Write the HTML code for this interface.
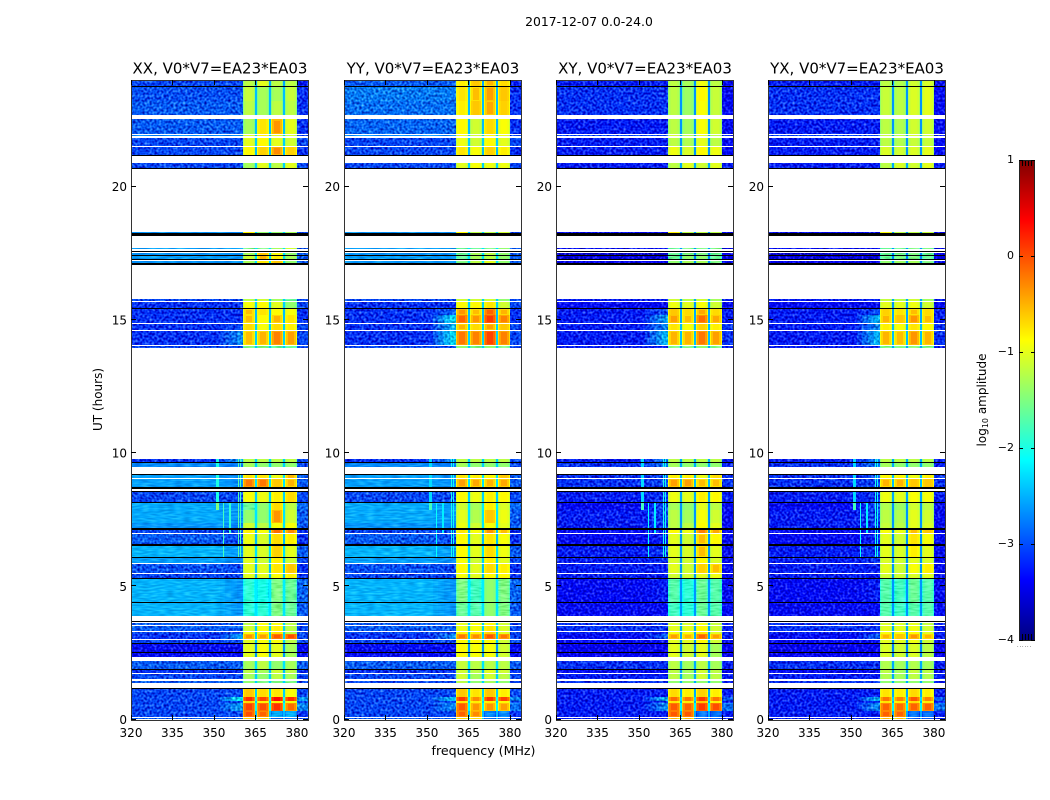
<!DOCTYPE html>
<html lang="en">
<head>
<meta charset="utf-8">
<title>2017-12-07 0.0-24.0</title>
<style>
html,body{margin:0;padding:0;background:#fff;width:1050px;height:800px;overflow:hidden}
svg{display:block}
text{font-family:"DejaVu Sans","Liberation Sans",sans-serif;fill:#000}
</style>
</head>
<body>
<svg id="chart" xmlns="http://www.w3.org/2000/svg" width="1050" height="800" viewBox="0 0 1050 800">
<defs>
<filter id="speckle" x="0" y="0" width="100%" height="100%" color-interpolation-filters="sRGB">
<feTurbulence type="fractalNoise" baseFrequency="0.42" numOctaves="1" seed="7" result="n"/>
<feColorMatrix in="n" type="matrix" values="1 0 0 0 0 1 0 0 0 0 1 0 0 0 0 0 0 0 0 1" result="g"/>
<feComposite in="SourceGraphic" in2="g" operator="arithmetic" k1="0" k2="1" k3="1.1" k4="-0.58" result="m"/>
<feComposite in="m" in2="SourceAlpha" operator="in"/>
</filter>
<filter id="speckle-soft" x="0" y="0" width="100%" height="100%" color-interpolation-filters="sRGB">
<feTurbulence type="fractalNoise" baseFrequency="0.12 0.6" numOctaves="1" seed="11" result="n"/>
<feColorMatrix in="n" type="matrix" values="1 0 0 0 0 1 0 0 0 0 1 0 0 0 0 0 0 0 0 1" result="g"/>
<feComposite in="SourceGraphic" in2="g" operator="arithmetic" k1="0" k2="1" k3="0.45" k4="-0.22" result="m"/>
<feComposite in="m" in2="SourceAlpha" operator="in"/>
</filter>
</defs>
<text x="589" y="26" font-size="12.4" text-anchor="middle">2017-12-07 0.0-24.0</text>
<text x="483.5" y="755" font-size="12.6" text-anchor="middle">frequency (MHz)</text>
<text transform="translate(102 399.5) rotate(-90)" font-size="12" text-anchor="middle">UT (hours)</text>
<text transform="translate(986 400) rotate(-90)" font-size="12" text-anchor="middle">log<tspan font-size="8" dy="2">10</tspan><tspan dy="-2"> amplitude</tspan></text>
<text x="1017" y="647" font-size="5" fill="#888" letter-spacing="0.9">......</text>
</svg>
<script>
// Axis tick labels
const freqTicks = [320, 335, 350, 365, 380];
const hourTicks = [0, 5, 10, 15, 20];
const colorbarTicks = [1, 0, -1, -2, -3, -4];
const colorbarTickLabels = ['1', '0', '\u22121', '\u22122', '\u22123', '\u22124'];

// Baselines (polarisation) shown
const panelTitles = ['XX, V0*V7=EA23*EA03', 'YY, V0*V7=EA23*EA03', 'XY, V0*V7=EA23*EA03', 'YX, V0*V7=EA23*EA03'];
const panelKeys = ['xx', 'yy', 'xy', 'yx'];

// Frequency bands in MHz: background, wing, four spectral windows, edge channels
const bgBand = [320, 352];
const wingBand = [352, 360.5];
const spwStart = [360.5, 365.5, 370.6, 375.7];
const spwEnd = [364.8, 369.9, 374.9, 380.0];
const edgeBand = [380, 384];

// UT span (hours) of each valid data block
const rowStart = [0.03,0.10,0.32,0.62,0.68,0.84,1.37,1.53,1.74,1.91,2.33,2.53,2.88,3.01,3.21,3.32,3.54,3.89,4.42,5.31,5.48,5.87,6.10,6.57,6.99,7.17,7.39,7.85,8.17,8.71,9.06,9.47,9.66,13.94,14.04,14.60,14.87,15.17,15.46,15.69,17.13,17.27,17.43,17.64,18.24,20.69,21.19,21.54,21.88,21.97,22.67,23.20,23.78];
const rowEnd = [0.07,0.32,0.62,0.68,0.84,1.13,1.44,1.71,1.87,2.20,2.49,2.84,2.97,3.21,3.28,3.52,3.62,4.38,5.27,5.46,5.83,6.07,6.53,6.97,7.13,7.36,7.85,8.13,8.53,9.02,9.16,9.62,9.77,14.00,14.57,14.83,15.17,15.42,15.65,15.77,17.21,17.39,17.49,17.68,18.29,20.87,21.50,21.84,21.93,22.52,23.20,23.74,24.00];

// Fully flagged (black) integrations, hours
const flagStart = [1.13,1.87,2.49,2.84,3.68,4.38,5.27,6.07,6.53,7.13,8.13,8.53,8.65,9.16,9.62,15.42,17.06,17.23,17.39,17.53,18.14,20.66,21.14,23.74];
const flagEnd = [1.17,1.91,2.53,2.88,3.70,4.42,5.31,6.10,6.57,7.17,8.17,8.57,8.71,9.21,9.66,15.46,17.13,17.27,17.43,17.60,18.24,20.69,21.19,23.78];

// Narrow RFI lines (MHz, hours, log10 amp)
const rfiFreqStart = [350.7,350.7,353.2,355.6,358.6,359.4];
const rfiFreqEnd = [351.8,351.8,353.6,356.0,359.0,359.9];
const rfiTimeStart = [7.85,8.17,6.0,7.0,6.0,6.0];
const rfiTimeEnd = [8.13,9.8,8.13,8.13,9.8,9.8];
const rfiLevel = [-1.5,-2.0,-1.8,-1.9,-1.7,-1.8];
const rfiPanelOffset = [0,-0.3,-0.3,-0.3];

// log10 amplitude per data block: [bg, wing, spw1, spw2, spw3, spw4, edge]
const xxAmp = [
[-2.9,-2.9,-.6,-.6,-2.8,-2.8,-3],[-3,-3,0,-.1,-2.5,-2.5,-3.1],[-3,-2.6,.05,0,.15,-.15,-2.7],[-3,-3,-.7,-.8,-.8,-.9,-3],[-3,-2.2,.15,.05,.35,.15,-2.6],[-3,-3,-.6,-.7,-.75,-.9,-3],
[-2.9,-2.9,-1.4,-1.5,-1.5,-1.5,-3],[-3,-3,-1.3,-1.4,-1.2,-1.3,-3],[-3.1,-3.1,-1.2,-1.3,-1.1,-1.2,-3.1],[-2.9,-2.9,-1.3,-1.2,-1.4,-1.3,-2.9],[-3.3,-3.3,-1,-.9,-1,-1.3,-3.3],[-3.3,-3.3,-1,-.9,-1,-1.3,-3.3],
[-3,-3,-1,-.9,-.9,-1.2,-3],[-3.1,-2.6,-.35,-.4,-.05,0,-3],[-3,-3,-.9,-.8,-.7,-1.2,-3],[-2.9,-2.9,-1.1,-.9,-.8,-1.2,-3],[-2.9,-3,-1.2,-.9,-.9,-1.2,-3],[-2.5,-2.65,-1.9,-1.9,-1.5,-1.6,-2.9],
[-2.5,-2.65,-1.9,-2,-1.5,-1.6,-2.85],[-3,-3,-1,-1,-.9,-.8,-3.1],[-2.95,-3,-1,-1,-.75,-.6,-3.1],[-2.6,-2.7,-1,-1.1,-.8,-1.1,-3],[-2.5,-2.65,-1,-1.05,-.65,-1,-2.9],[-2.9,-3,-.95,-1.05,-.7,-.8,-3.1],
[-3,-3,-.8,-.9,-.15,-.3,-3.1],[-2.65,-2.75,-1.1,-1.2,-.9,-.9,-2.9],[-2.55,-2.65,-1.4,-1.4,-.35,-1.1,-2.9],[-2.55,-2.65,-1.6,-1.4,-.7,-1.2,-2.85],[-3,-3,-.9,-.95,-.8,-.7,-3],[-2.6,-2.7,-.2,-.2,-.6,-.5,-2.9],
[-2.6,-2.7,-.75,-.75,-.95,-.5,-2.9],[-2.7,-2.8,-1.3,-1.4,-1.4,-1.4,-3],[-3.1,-2.6,-1.2,-1.2,-1.2,-1.2,-3],[-3,-3,-1.5,-1.5,-1.6,-1.6,-3],[-3.1,-2.7,-.55,-.5,-.25,-.4,-3],[-3.1,-3,-.7,-.9,-.7,-.8,-3],
[-3.1,-3.1,-.55,-.85,-.5,-.75,-3.1],[-3.1,-3.1,-.55,-.75,-.85,-.9,-3.1],[-3.1,-3.1,-.9,-.85,-1,-1.4,-3],[-3,-3,-1.2,-1.1,-1.3,-1.6,-3],[-2.65,-2.65,-1.3,-.75,-.6,-1.4,-2.9],[-2.6,-2.65,-1.1,-.5,-.8,-1.3,-2.9],
[-2.65,-2.65,-1.3,-.6,-.9,-1.4,-2.9],[-2.6,-2.6,-1.5,-1.5,-1.3,-1.1,-2.9],[-2.65,-2.7,-.8,-1.4,-1.4,-1.3,-3],[-3,-3,-1.3,-1,-1.2,-1,-3],[-3,-3,-.85,-.65,-.3,-.65,-3.1],[-3,-3,-1,-.85,-1,-1.1,-3],
[-2.7,-2.65,-1,-.8,-1,-1.1,-3],[-2.9,-2.9,-1.3,-.75,-.35,-1,-3.1],[-2.9,-2.9,-1.2,-1.3,-1.2,-1.2,-3.1],[-2.95,-2.95,-1.15,-1.3,-1.3,-1.15,-3.1],[-3,-3,-1.2,-1,-1.2,-1.2,-3.2]
];
const yyAmp = [
[-2.9,-2.9,-.7,-.7,-2.8,-2.8,-3],[-3,-3,-.1,-.3,-2.7,-2.7,-3.1],[-3,-2.7,-.05,-.35,-.35,-.4,-2.8],[-3,-3,-.75,-.8,-.8,-.85,-3],[-3,-2.4,.1,-.3,.1,.05,-2.7],[-3,-3,-.6,-.75,-.6,-.8,-3],
[-3,-3,-1.2,-1.4,-1.3,-1.4,-3],[-3,-3,-1.1,-1.3,-1.1,-1.2,-3],[-3.1,-3.1,-1.1,-1.2,-1,-1.1,-3.1],[-2.9,-2.9,-1.15,-1.2,-1.2,-1.2,-2.9],[-3.3,-3.3,-.85,-.9,-.9,-1.1,-3.3],[-3.3,-3.3,-.85,-.9,-.9,-1.1,-3.3],
[-3,-3,-.85,-.85,-.85,-1.1,-3],[-3.1,-2.7,-.2,-.3,-.05,-.2,-3],[-3,-3,-.8,-.8,-.65,-1,-3],[-2.9,-2.9,-.95,-.9,-.75,-1.05,-3],[-2.9,-3,-1,-.9,-.85,-1.1,-3],[-2.5,-2.65,-1.6,-1.7,-1.4,-1.5,-2.9],
[-2.5,-2.65,-1.5,-1.8,-1.4,-1.5,-2.85],[-3,-3,-.9,-1,-.85,-.85,-3.1],[-2.95,-3,-.85,-1,-.7,-.8,-3.1],[-2.6,-2.7,-.9,-1.1,-.8,-1,-3],[-2.5,-2.65,-.85,-1,-.7,-.95,-2.9],[-2.9,-3,-.85,-1,-.75,-.9,-3.1],
[-3,-3,-.75,-.9,-.35,-.55,-3.1],[-2.65,-2.75,-.95,-1.1,-.9,-1,-2.9],[-2.55,-2.65,-1,-1.25,-.6,-.95,-2.9],[-2.55,-2.65,-1.1,-1.3,-.8,-1.05,-2.85],[-3,-3,-.85,-.95,-.8,-.85,-3],[-2.6,-2.7,-.4,-.45,-.5,-.45,-2.9],
[-2.6,-2.7,-.75,-.8,-.85,-.6,-2.9],[-2.7,-2.8,-1.3,-1.4,-1.4,-1.4,-3],[-3.1,-2.7,-1.2,-1.2,-1.2,-1.2,-3],[-3,-3,-1.4,-1.5,-1.4,-1.5,-3],[-3.1,-2.3,-.2,-.25,.05,-.25,-3],[-3.1,-2.5,-.5,-.7,-.4,-.6,-3],
[-3.1,-2.3,-.1,-.35,.1,-.25,-3.1],[-3.1,-2.9,-.35,-.55,-.1,-.5,-3.1],[-3.1,-3.1,-.85,-.85,-.75,-1.1,-3],[-3,-3,-1.1,-1.1,-1.1,-1.4,-3],[-2.65,-2.65,-1.5,-1.2,-1,-1.4,-2.9],[-2.6,-2.65,-1.6,-1.3,-1.2,-1.4,-2.9],
[-2.65,-2.65,-1.6,-1.3,-1.2,-1.4,-2.9],[-2.6,-2.6,-1.6,-1.6,-1.5,-1.4,-2.9],[-2.65,-2.7,-.85,-1.2,-1.2,-1.1,-3],[-3,-3,-1,-.9,-.95,-.95,-3],[-3,-3,-.75,-.9,-.65,-.8,-3.1],[-3,-3,-.95,-1.1,-.85,-1,-3],
[-2.7,-2.7,-.95,-1.1,-.85,-1,-3],[-2.85,-2.85,-.85,-1.1,-.7,-.9,-3.1],[-2.8,-2.8,-.8,-.6,-.45,-.65,-3.1],[-2.75,-2.75,-.75,-.55,-.4,-.6,-3.1],[-2.9,-2.9,-.8,-.6,-.5,-.7,-3.2]
];
const xyAmp = [
[-3.2,-3.2,-.5,-.5,-2.9,-2.9,-3.2],[-3.2,-3.2,-.05,-.05,-2.8,-2.8,-3.2],[-3.2,-2.7,-.05,-.1,.1,0,-2.8],[-3.2,-3.1,-.75,-.8,-.6,-.8,-3.2],[-3.2,-2.5,-.15,-.2,.1,-.2,-2.9],[-3.2,-3.2,-.7,-.8,-.65,-.8,-3.2],
[-3.1,-3.1,-1.4,-1.4,-1.4,-1.4,-3.2],[-3.2,-3.2,-1.2,-1.3,-1.1,-1.2,-3.2],[-3.3,-3.3,-1.2,-1.3,-1.1,-1.2,-3.3],[-3.1,-3.1,-1.2,-1.3,-1.2,-1.3,-3.2],[-3.4,-3.4,-1,-1.1,-1,-1.3,-3.4],[-3.4,-3.4,-1,-1.1,-1,-1.3,-3.4],
[-3.3,-3.3,-1,-1,-.85,-1.1,-3.3],[-3.3,-2.9,-.4,-.5,-.1,-.4,-3.2],[-3.2,-3.2,-.9,-.9,-.75,-1,-3.2],[-3.1,-3.1,-1,-1,-.85,-1.1,-3.2],[-3.1,-3.1,-1.05,-1.05,-.95,-1.15,-3.2],[-3.3,-3.3,-1.8,-1.9,-1.6,-1.7,-3.3],
[-3.3,-3.2,-1.7,-1.9,-1.6,-1.7,-3.3],[-3.2,-3.2,-1.1,-1.1,-1,-.95,-3.3],[-3.2,-3.2,-1,-1.1,-.65,-.55,-3.3],[-3.2,-3.1,-1.05,-1.1,-.85,-1.05,-3.3],[-3.2,-3.1,-1,-1.05,-.55,-1,-3.3],[-3.3,-3.2,-1,-1.1,-.55,-.85,-3.3],
[-3.3,-3.2,-.85,-.95,-.25,-.45,-3.3],[-3.2,-3.1,-1.2,-1.2,-.85,-1,-3.3],[-3.2,-3,-1.2,-1.3,-.9,-1.1,-3.3],[-3.3,-3,-1.3,-1.4,-1,-1.2,-3.3],[-3.2,-3.1,-.95,-1,-.8,-.85,-3.2],[-3.1,-3,-.4,-.4,-.55,-.55,-3.1],
[-3.1,-3,-.8,-.8,-.95,-.7,-3.1],[-3.1,-2.8,-1.3,-1.4,-1.4,-1.4,-3.2],[-3.2,-2.8,-1.2,-1.2,-1.2,-1.2,-3.2],[-3.2,-3.2,-1.5,-1.5,-1.4,-1.5,-3.2],[-3.2,-2.5,-.5,-.5,-.2,-.4,-3.1],[-3.2,-2.7,-.75,-.9,-.65,-.8,-3.1],
[-3.2,-2.6,-.4,-.55,-.15,-.45,-3.2],[-3.2,-3,-.6,-.7,-.45,-.7,-3.2],[-3.3,-3.3,-.95,-1,-.9,-1.1,-3.3],[-3.2,-3.2,-1.1,-1.2,-1.1,-1.3,-3.2],[-3.4,-3.4,-1.4,-1.3,-1.3,-1.5,-3.3],[-3.5,-3.5,-1.6,-1.4,-1.4,-1.6,-3.4],
[-3.6,-3.6,-1.6,-1.5,-1.5,-1.6,-3.4],[-3.3,-3.3,-1.6,-1.5,-1.5,-1.5,-3.3],[-3.3,-3.3,-.8,-1.2,-1.2,-1.2,-3.3],[-3.2,-3.2,-1.2,-1,-1.1,-1,-3.2],[-3.2,-3.2,-.95,-1.05,-.85,-.95,-3.3],[-3.2,-3.2,-1.2,-1.25,-1,-1.2,-3.3],
[-3,-3,-1.1,-1.2,-1,-1.2,-3.2],[-3.2,-3.2,-1.2,-1.3,-.9,-1.1,-3.3],[-3.1,-3.1,-1.2,-1.35,-.9,-1.15,-3.3],[-3.1,-3.1,-1.2,-1.35,-.85,-1.15,-3.3],[-3.2,-3.2,-1.2,-1.3,-.95,-1.2,-3.3]
];
const yxAmp = [
[-3.2,-3.2,-.5,-.55,-2.9,-2.9,-3.2],[-3.2,-3.2,-.1,-.1,-2.8,-2.8,-3.2],[-3.2,-2.7,-.1,-.15,-.1,-.1,-2.8],[-3.2,-3.1,-.75,-.8,-.7,-.8,-3.2],[-3.2,-2.5,-.2,-.25,-.05,-.25,-2.9],[-3.2,-3.2,-.75,-.8,-.7,-.8,-3.2],
[-3.1,-3.1,-1.4,-1.4,-1.4,-1.4,-3.2],[-3.2,-3.2,-1.25,-1.3,-1.2,-1.25,-3.2],[-3.3,-3.3,-1.2,-1.3,-1.15,-1.2,-3.3],[-3.1,-3.1,-1.25,-1.3,-1.25,-1.3,-3.2],[-3.4,-3.4,-1.05,-1.1,-1.05,-1.2,-3.4],[-3.4,-3.4,-1.05,-1.1,-1.05,-1.2,-3.4],
[-3.3,-3.3,-1,-1,-.95,-1.1,-3.3],[-3.3,-2.9,-.5,-.6,-.35,-.5,-3.2],[-3.2,-3.2,-.9,-.9,-.85,-1,-3.2],[-3.1,-3.1,-1,-1,-.95,-1.1,-3.2],[-3.1,-3.1,-1.05,-1.05,-1,-1.15,-3.2],[-3.3,-3.3,-1.7,-1.8,-1.7,-1.7,-3.3],
[-3.3,-3.2,-1.7,-1.8,-1.6,-1.7,-3.3],[-3.2,-3.2,-1.1,-1.1,-1.05,-1,-3.3],[-3.2,-3.2,-1,-1.1,-.9,-.8,-3.3],[-3.2,-3.1,-1.05,-1.1,-1,-1.05,-3.3],[-3.2,-3.1,-1,-1.05,-.8,-1,-3.3],[-3.3,-3.2,-1,-1.1,-.75,-.9,-3.3],
[-3.3,-3.2,-.9,-.95,-.55,-.6,-3.3],[-3.2,-3.1,-1.15,-1.2,-1,-1.05,-3.3],[-3.2,-3,-1.2,-1.25,-1,-1.1,-3.3],[-3.3,-3,-1.25,-1.35,-1.1,-1.2,-3.3],[-3.2,-3.1,-.95,-1,-.9,-.9,-3.2],[-3.1,-3,-.5,-.5,-.6,-.6,-3.1],
[-3.1,-3,-.85,-.85,-.95,-.8,-3.1],[-3.1,-2.8,-1.3,-1.4,-1.4,-1.4,-3.2],[-3.2,-2.8,-1.2,-1.2,-1.2,-1.2,-3.2],[-3.2,-3.2,-1.5,-1.5,-1.45,-1.5,-3.2],[-3.2,-2.5,-.5,-.55,-.35,-.5,-3.1],[-3.2,-2.7,-.8,-.9,-.75,-.85,-3.1],
[-3.2,-2.5,-.5,-.6,-.35,-.55,-3.2],[-3.2,-3,-.65,-.75,-.55,-.7,-3.2],[-3.3,-3.3,-1,-1,-.95,-1.1,-3.3],[-3.2,-3.2,-1.15,-1.2,-1.1,-1.3,-3.2],[-3.4,-3.4,-1.4,-1.35,-1.3,-1.5,-3.3],[-3.5,-3.5,-1.6,-1.5,-1.5,-1.6,-3.4],
[-3.6,-3.6,-1.6,-1.55,-1.5,-1.6,-3.4],[-3.3,-3.3,-1.6,-1.55,-1.5,-1.5,-3.3],[-3.3,-3.3,-.85,-1.2,-1.2,-1.15,-3.3],[-3.2,-3.2,-1.2,-1.05,-1.1,-1,-3.2],[-3.2,-3.2,-1.05,-1.1,-1.05,-1,-3.3],[-3.2,-3.2,-1.2,-1.25,-1.15,-1.15,-3.3],
[-3,-3,-1.15,-1.2,-1.1,-1.15,-3.2],[-3.2,-3.2,-1.2,-1.25,-1.1,-1.1,-3.3],[-3.1,-3.1,-1.15,-1.2,-1.05,-1,-3.3],[-3.1,-3.1,-1.15,-1.2,-1.05,-1,-3.3],[-3.2,-3.2,-1.2,-1.25,-1.1,-1.05,-3.3]
];
const panelAmps = [xxAmp, yyAmp, xyAmp, yxAmp];

// Layout
const svg = document.getElementById('chart');
const NS = 'http://www.w3.org/2000/svg';
const panelLeft = [131, 344, 556, 768];
const panelWidth = 177;
const plotTop = 80, plotBottom = 720;
const freqMin = 320, freqMax = 384;
const hourMin = 0, hourMax = 24;
const cbLeft = 1019, cbRight = 1035, cbTop = 160, cbBottom = 640;
const ampMin = -4, ampMax = 1;
const wingSteps = 4;

function xScale(f, p) { return panelLeft[p] + (f - freqMin) / (freqMax - freqMin) * panelWidth; }
function yScale(t) { return plotBottom - 0.5 - (t - hourMin) / (hourMax - hourMin) * (plotBottom - 0.5 - plotTop); }
function cbScale(v) { return cbBottom - (v - ampMin) / (ampMax - ampMin) * (cbBottom - cbTop); }

function clamp01(v) { return Math.max(0, Math.min(1, v)); }
function jet(v) {
  const n = clamp01((v - ampMin) / (ampMax - ampMin));
  const r = clamp01(Math.min(4 * n - 1.5, -4 * n + 4.5));
  const g = clamp01(Math.min(4 * n - 0.5, -4 * n + 3.5));
  const b = clamp01(Math.min(4 * n + 0.5, -4 * n + 2.5));
  return 'rgb(' + Math.round(r * 255) + ',' + Math.round(g * 255) + ',' + Math.round(b * 255) + ')';
}
function make(tag, attrs, parent) {
  const el = document.createElementNS(NS, tag);
  for (const k in attrs) el.setAttribute(k, attrs[k]);
  parent.appendChild(el);
  return el;
}
function cell(parent, f0, f1, t0, t1, p, fill) {
  const x0 = Math.round(xScale(f0, p)), x1 = Math.round(xScale(f1, p));
  const y0 = Math.round(yScale(t1)), y1 = Math.round(yScale(t0));
  const el = make('rect', { x: x0, y: y0, width: Math.max(1, x1 - x0), height: Math.max(1, y1 - y0), fill: fill }, parent);
  
  
  return el;
}

panelTitles.forEach(function (title, p) {
  const amp = panelAmps[p];
  const key = panelKeys[p];
  const group = make('g', { 'shape-rendering': 'crispEdges' }, svg);
  
  

  const noisy = make('g', { filter: 'url(#speckle)' }, group);
  
  
  const soft = make('g', { filter: 'url(#speckle-soft)' }, group);
  
  
  const spws = make('g', {}, group);
  
  

  rowStart.forEach(function (t0, r) {
    const t1 = rowEnd[r];
    const vals = amp[r];
    const bgGroup = vals[0] > -2.75 ? soft : noisy;
    cell(bgGroup, bgBand[0], bgBand[1], t0, t1, p, jet(vals[0]));
    for (let w = 0; w < wingSteps; w++) {
      const f0 = wingBand[0] + (wingBand[1] - wingBand[0]) * w / wingSteps;
      const f1 = wingBand[0] + (wingBand[1] - wingBand[0]) * (w + 1) / wingSteps;
      const frac = (w + 1) / wingSteps;
      cell(bgGroup, f0, f1, t0, t1, p, jet(vals[0] + (vals[1] - vals[0]) * frac));
    }
    cell(noisy, spwEnd[3], edgeBand[1], t0, t1, p, jet(vals[6]));
    for (let s = 0; s < 3; s++) {
      cell(spws, spwEnd[s], spwStart[s + 1], t0, t1, p, jet(vals[6] + 0.65));
    }
    rfiFreqStart.forEach(function (f0, i) {
      const mid = (t0 + t1) / 2;
      if (mid >= rfiTimeStart[i] && mid <= rfiTimeEnd[i]) {
        cell(spws, f0, rfiFreqEnd[i], t0, t1, p, jet(rfiLevel[i] + rfiPanelOffset[p]));
      }
    });
    for (let s = 0; s < 4; s++) {
      const v = vals[2 + s];
      const spwGroup = v < -1.4 ? soft : spws;
      const hot = v > -0.6;
      const tall = t1 - t0 > 0.16;
      const pad = tall && hot ? 0.04 : 0;
      cell(spwGroup, spwStart[s], spwEnd[s], t0, t1, p, jet(v - (hot ? 0.45 : 0.25)));
      cell(spwGroup, spwStart[s] + 0.4, spwEnd[s] - 0.4, t0, t1, p, jet(v - (hot ? 0.18 : 0.05)));
      cell(spwGroup, spwStart[s] + 1, spwEnd[s] - 1, t0 + pad, t1 - pad, p, jet(v));
    }
  });

  flagStart.forEach(function (t0, i) {
    const el = cell(group, freqMin, freqMax, t0, flagEnd[i], p, '#000');
    
  });

  const frame = make('rect', { x: panelLeft[p] + 0.5, y: plotTop + 0.5, width: panelWidth, height: plotBottom - plotTop, fill: 'none', stroke: '#333', 'stroke-width': 1.2 }, group);
  
  

  const titleEl = make('text', { x: panelLeft[p] + panelWidth / 2 + 0.5, y: 73.5, 'font-size': 15, 'text-anchor': 'middle' }, svg);
  titleEl.textContent = title;
  
  

  freqTicks.forEach(function (f) {
    const x = Math.round(xScale(f, p)) + 0.5;
    const bottomTick = make('line', { x1: x, x2: x, y1: plotBottom - 5, y2: plotBottom, stroke: '#000' }, group);
    
    
    const topTick = make('line', { x1: x, x2: x, y1: plotTop, y2: plotTop + 5, stroke: '#000' }, group);
    
    
    const label = make('text', { x: xScale(f, p), y: 737, 'font-size': 12, 'text-anchor': 'middle' }, svg);
    label.textContent = String(f);
    
    
  });

  hourTicks.forEach(function (t) {
    const y = Math.round(yScale(t)) - 0.5;
    const leftTick = make('line', { x1: panelLeft[p], x2: panelLeft[p] + 5, y1: y, y2: y, stroke: '#000' }, group);
    
    
    const rightTick = make('line', { x1: panelLeft[p] + panelWidth - 5, x2: panelLeft[p] + panelWidth, y1: y, y2: y, stroke: '#000' }, group);
    
    
    const label = make('text', { x: panelLeft[p] - 4, y: yScale(t) + 4.5, 'font-size': 12, 'text-anchor': 'end' }, svg);
    label.textContent = String(t);
    
    
  });
});

// Colorbar
const cb = make('g', { 'shape-rendering': 'crispEdges' }, svg);


for (let y = cbTop; y < cbBottom; y++) {
  const v = ampMin + (cbBottom - y - 0.5) / (cbBottom - cbTop) * (ampMax - ampMin);
  const strip = make('rect', { x: cbLeft, y: y, width: cbRight - cbLeft, height: 1, fill: jet(v) }, cb);
  
  
}
for (let x = cbLeft + 3; x < cbRight - 1; x += 3) {
  const topMinor = make('line', { x1: x + 0.5, x2: x + 0.5, y1: cbTop, y2: cbTop + 6, stroke: '#000' }, cb);
  
  
  const bottomMinor = make('line', { x1: x + 0.5, x2: x + 0.5, y1: cbBottom - 6, y2: cbBottom, stroke: '#000' }, cb);
  
  
}
const cbFrame = make('rect', { x: cbLeft + 0.5, y: cbTop + 0.5, width: cbRight - cbLeft - 1, height: cbBottom - cbTop, fill: 'none', stroke: '#222' }, cb);


colorbarTicks.forEach(function (v, i) {
  const y = Math.round(cbScale(v)) + 0.5;
  const tl = make('line', { x1: cbLeft, x2: cbLeft + 4, y1: y, y2: y, stroke: '#000' }, cb);
  
  
  const tr = make('line', { x1: cbRight - 4, x2: cbRight, y1: y, y2: y, stroke: '#000' }, cb);
  
  
  const label = make('text', { x: cbLeft - 5, y: cbScale(v) + 3, 'font-size': 11, 'text-anchor': 'end' }, svg);
  label.textContent = colorbarTickLabels[i];
  
  
});
</script>
</body>
</html>
